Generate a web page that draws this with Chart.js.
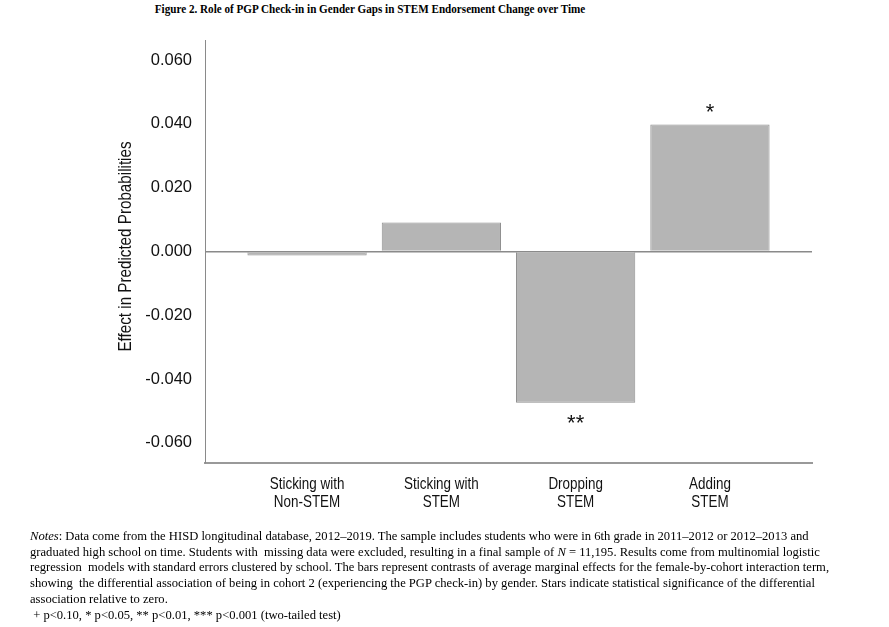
<!DOCTYPE html>
<html lang="en">
<head>
    <meta charset="UTF-8">
    <title>Figure 2. Role of PGP Check-in</title>
    <script src="https://cdn.jsdelivr.net/npm/chart.js"></script>
    <style>
        body {
            margin: 0;
            padding: 0;
            background-color: #fff;
            width: 889px;
            height: 627px;
            overflow: hidden;
            position: relative;
        }

        #chart {
            position: absolute;
            left: 0;
            top: 0;
        }

        .title {
            position: absolute;
            left: 0;
            width: 740px;
            top: 2px;
            text-align: center;
            font-family: "Liberation Serif", serif;
            font-weight: bold;
            font-size: 12.8px;
            color: #000;
            transform: scaleX(0.87);
            transform-origin: 370px 0;
        }

        .notes {
            position: absolute;
            left: 30px;
            top: 529px;
            font-family: "Liberation Serif", serif;
            font-size: 12.6px;
            line-height: 15.7px;
            color: #000;
        }

        .notes div {
            white-space: nowrap;
        }
    </style>
</head>
<body>
    <div class="title">Figure 2. Role of PGP Check-in in Gender Gaps in STEM Endorsement Change over Time</div>
    <canvas id="chart" width="889" height="627"></canvas>
    <div class="notes">
        <div><i>Notes</i>: Data come from the HISD longitudinal database, 2012–2019. The sample includes students who were in 6th grade in 2011–2012 or 2012–2013 and</div>
        <div>graduated high school on time. Students with&nbsp; missing data were excluded, resulting in a final sample of <i>N</i> = 11,195. Results come from multinomial logistic</div>
        <div>regression&nbsp; models with standard errors clustered by school. The bars represent contrasts of average marginal effects for the female-by-cohort interaction term,</div>
        <div>showing&nbsp; the differential association of being in cohort 2 (experiencing the PGP check-in) by gender. Stars indicate statistical significance of the differential</div>
        <div>association relative to zero.</div>
        <div>&nbsp;+ p&lt;0.10, * p&lt;0.05, ** p&lt;0.01, *** p&lt;0.001 (two-tailed test)</div>
    </div>

    <script>
        // dados
        const categories = [
            ["Sticking with", "Non-STEM"],
            ["Sticking with", "STEM"],
            ["Dropping", "STEM"],
            ["Adding", "STEM"]
        ];
        const effects = [-0.00125, 0.0091, -0.0474, 0.0398];
        const stars = ["", "", "**", "*"];
        const yTicks = [-0.06, -0.04, -0.02, 0, 0.02, 0.04, 0.06];
        const yTitle = "Effect in Predicted Probabilities";

        const regular = "'Liberation Sans', Arial, sans-serif";

        // texto estreito (tipo Arial Narrow) desenhado nas posições das escalas
        function narrowText(ctx, text, x, y, squeeze) {
            ctx.save();
            ctx.translate(x, y);
            ctx.scale(squeeze, 1);
            ctx.fillText(text, 0, 0);
            ctx.restore();
        }

        const labelsPlugin = {
            id: "narrowLabels",
            afterDraw(chart) {
                const ctx = chart.ctx;
                const xs = chart.scales.x;
                const ys = chart.scales.y;
                const area = chart.chartArea;
                ctx.save();
                ctx.fillStyle = "#111";
                ctx.textAlign = "center";
                ctx.textBaseline = "middle";

                // rótulos do eixo x
                ctx.font = "17px " + regular;
                xs.ticks.forEach((t, i) => {
                    const px = xs.getPixelForTick(i);
                    const lines = categories[t.value];
                    lines.forEach((line, j) => {
                        narrowText(ctx, line, px, area.bottom + 21 + j * 18, 0.79);
                    });
                });

                // título do eixo y
                ctx.font = "19px " + regular;
                ctx.save();
                ctx.translate(126, (ys.top + ys.bottom) / 2 - 5);
                ctx.rotate(-Math.PI / 2);
                narrowText(ctx, yTitle, 0, 0, 0.8);
                ctx.restore();

                ctx.restore();
            }
        };

        // estrelas de significância
        const starsPlugin = {
            id: "stars",
            afterDatasetsDraw(chart) {
                const ctx = chart.ctx;
                const x = chart.scales.x;
                const y = chart.scales.y;
                ctx.save();
                ctx.font = "22px " + regular;
                ctx.fillStyle = "#111";
                ctx.textAlign = "center";
                ctx.textBaseline = "alphabetic";
                stars.forEach((s, i) => {
                    if (!s) return;
                    const px = x.getPixelForValue(i);
                    const py = y.getPixelForValue(effects[i]);
                    if (effects[i] >= 0) {
                        ctx.fillText(s, px, py - 6);
                    } else {
                        ctx.fillText(s, px, py + 27);
                    }
                });
                ctx.restore();
            }
        };

        new Chart(document.getElementById("chart"), {
            type: "bar",
            data: {
                datasets: [{
                    data: effects.map((v, i) => ({ x: i, y: v })),
                    backgroundColor: "#b5b5b5",
                    borderColor: "#8e8e8e",
                    borderWidth: 1,
                    barPercentage: 0.888,
                    categoryPercentage: 1
                }]
            },
            options: {
                responsive: false,
                animation: false,
                devicePixelRatio: 1,
                layout: { padding: { top: 40, right: 77, left: 0, bottom: 0 } },
                plugins: {
                    legend: { display: false },
                    tooltip: { enabled: false }
                },
                scales: {
                    x: {
                        type: "linear",
                        offset: false,
                        min: -0.76,
                        max: 3.76,
                        afterBuildTicks(scale) {
                            scale.ticks = categories.map((c, i) => ({ value: i }));
                        },
                        afterFit(scale) {
                            scale.height = 164;
                        },
                        grid: { display: false, drawTicks: false },
                        border: { display: true, color: "#999", width: 2 },
                        ticks: { display: false }
                    },
                    y: {
                        min: -0.0663,
                        max: 0.0663,
                        afterBuildTicks(scale) {
                            scale.ticks = yTicks.map(v => ({ value: v }));
                        },
                        afterFit(scale) {
                            scale.width = 205;
                        },
                        grid: {
                            drawTicks: false,
                            color: (c) => (c.tick && c.tick.value === 0 ? "#8a8a8a" : "transparent"),
                            lineWidth: 1.5
                        },
                        border: { display: true, color: "#8a8a8a", width: 1 },
                        ticks: {
                            padding: 13,
                            color: "#111",
                            font: { family: regular, size: 16.5 },
                            callback: (v) => v.toFixed(3)
                        }
                    }
                }
            },
            plugins: [starsPlugin, labelsPlugin]
        });
    </script>
</body>
</html>
